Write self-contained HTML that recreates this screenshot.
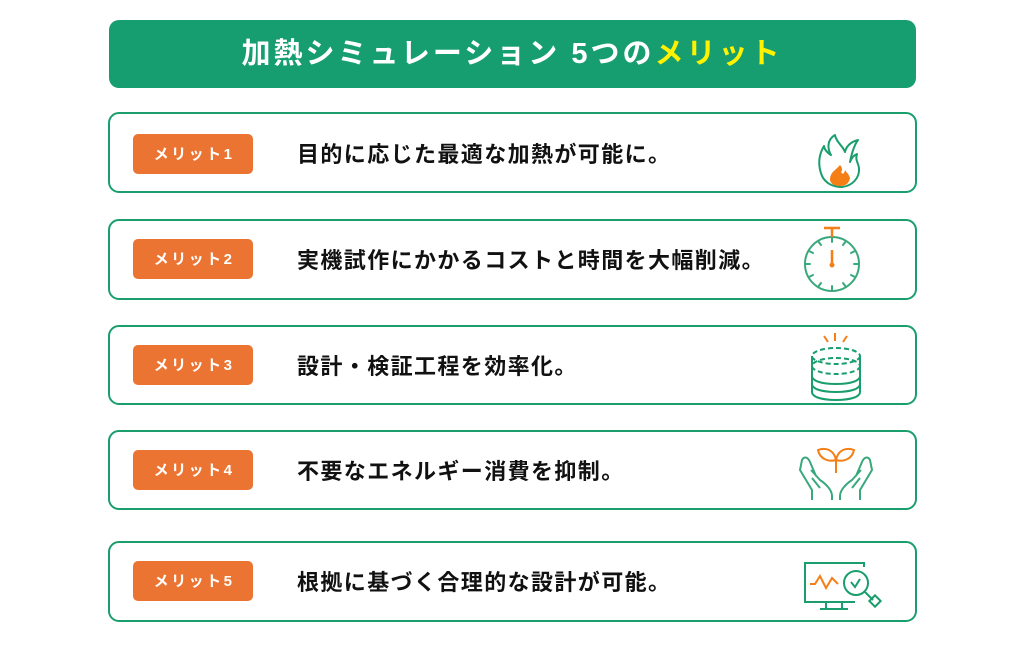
<!DOCTYPE html>
<html><head><meta charset="utf-8"><style>
body{margin:0;background:#fff;width:1027px;height:653px;overflow:hidden}
text{font-family:"Liberation Sans","Noto Sans CJK JP",sans-serif;font-weight:bold}
</style></head><body>
<svg width="1027" height="653" xmlns="http://www.w3.org/2000/svg">
<rect x="109" y="20" width="807" height="68" rx="10" fill="#169e70"/>
<text x="512" y="63" text-anchor="middle" font-size="29" letter-spacing="3" fill="#fff">加熱シミュレーション 5つの<tspan fill="#fff200">メリット</tspan></text>
<g fill="#fff" stroke="#1a9e6e" stroke-width="2">
<rect x="109" y="113" width="807" height="79" rx="10"/>
<rect x="109" y="220" width="807" height="79" rx="10"/>
<rect x="109" y="326" width="807" height="78" rx="10"/>
<rect x="109" y="431" width="807" height="78" rx="10"/>
<rect x="109" y="542" width="807" height="79" rx="10"/>
</g>
<g fill="#ec7432">
<rect x="133" y="134" width="120" height="40" rx="5"/>
<rect x="133" y="239" width="120" height="40" rx="5"/>
<rect x="133" y="345" width="120" height="40" rx="5"/>
<rect x="133" y="450" width="120" height="40" rx="5"/>
<rect x="133" y="561" width="120" height="40" rx="5"/>
</g>
<g fill="#fff" font-size="15" text-anchor="middle" letter-spacing="2.5">
<text x="194" y="159">メリット1</text>
<text x="194" y="264">メリット2</text>
<text x="194" y="370">メリット3</text>
<text x="194" y="475">メリット4</text>
<text x="194" y="586">メリット5</text>
</g>
<g fill="#111" font-size="22" letter-spacing="1.4">
<text x="297" y="162">目的に応じた最適な加熱が可能に。</text>
<text x="297" y="268">実機試作にかかるコストと時間を大幅削減。</text>
<text x="297" y="374">設計・検証工程を効率化。</text>
<text x="297" y="479">不要なエネルギー消費を抑制。</text>
<text x="297" y="590">根拠に基づく合理的な設計が可能。</text>
</g>
<!-- fire -->
<path d="M835,135 C826,140 828,150 831,155 C826,152 824,148 824,146 C818,156 818,166 822,176 C826,184 834,187 842,187 C852,186 860,178 859,168 C858,162 855,160 857,154 C852,156 851,160 850,162 C852,152 855,144 858,140 C850,142 846,147 845,152 C843,146 836,142 835,135 Z" fill="none" stroke="#1a9e6e" stroke-width="2" stroke-linejoin="round"/>
<path d="M840,165 C836,170 830,172 830,180 C831,185 836,186 840,186 C845,186 849,184 850,178 C849,174 846,172 845,170 C844,175 842,174 841,172 C843,170 842,167 840,165Z" fill="#f57f17"/>
<!-- stopwatch -->
<g stroke="#3aa87d" stroke-width="2" fill="none">
<circle cx="832" cy="264" r="27"/>
<g stroke-linecap="round">
<line x1="832" y1="237" x2="832" y2="242"/><line x1="832" y1="286" x2="832" y2="291"/>
<line x1="805" y1="264" x2="810" y2="264"/><line x1="854" y1="264" x2="859" y2="264"/>
<line x1="818" y1="241" x2="821" y2="245"/><line x1="846" y1="241" x2="843" y2="245"/>
<line x1="818" y1="287" x2="821" y2="283"/><line x1="846" y1="287" x2="843" y2="283"/>
<line x1="809" y1="251" x2="813" y2="253"/><line x1="855" y1="251" x2="851" y2="253"/>
<line x1="809" y1="277" x2="813" y2="275"/><line x1="855" y1="277" x2="851" y2="275"/>
</g></g>
<g stroke="#f57f17" stroke-width="2.5"><line x1="824" y1="228" x2="840" y2="228"/><line x1="832" y1="228" x2="832" y2="237"/><line x1="832" y1="250" x2="832" y2="264"/></g>
<circle cx="832" cy="265" r="2.5" fill="#f57f17"/>
<!-- coins -->
<g stroke="#1a9e6e" stroke-width="2" fill="none">
<ellipse cx="836" cy="356" rx="24" ry="8" stroke-dasharray="5 3"/>
<ellipse cx="836" cy="366" rx="24" ry="8" stroke-dasharray="5 3"/>
<path d="M812,356 V392 C812,397 822,400 836,400 C850,400 860,397 860,392 V356"/>
<path d="M812,376 C812,381 822,384 836,384 C850,384 860,381 860,376"/>
<path d="M812,384 C812,389 822,392 836,392 C850,392 860,389 860,384"/>
</g>
<g stroke="#f57f17" stroke-width="2"><line x1="835" y1="333" x2="835" y2="341"/><line x1="824" y1="336" x2="828" y2="342"/><line x1="847" y1="336" x2="843" y2="342"/></g>
<!-- hands -->
<g stroke="#3aa87d" stroke-width="2" fill="none" stroke-linejoin="round">
<path d="M812,500 V490 L800,470 L802,460 C804,456 808,457 810,462 L816,476 M811,470 L820,480 C826,484 832,490 832,496 V500 M812,478 L820,488"/>
<path d="M860,500 V490 L872,470 L870,460 C868,456 864,457 862,462 L856,476 M861,470 L852,480 C846,484 840,490 840,496 V500 M860,478 L852,488"/>
</g>
<g stroke="#f57f17" stroke-width="2" fill="none"><path d="M836,473 V460 C830,462 820,460 818,450 C826,447 834,450 836,460 C838,450 846,447 854,450 C852,460 842,462 836,460"/></g>
<!-- monitor -->
<g stroke="#1a9e6e" stroke-width="2" fill="none">
<path d="M864,567 V563 H805 V602 H855"/>
<line x1="826" y1="602" x2="826" y2="609"/><line x1="842" y1="602" x2="842" y2="609"/><line x1="820" y1="609" x2="848" y2="609"/>
<circle cx="856" cy="583" r="12"/>
<path d="M851,582 L855,587 L860,579"/>
<path d="M865,592 L873,600"/>
<rect x="871" y="597" width="8" height="8" transform="rotate(45 875 601)"/>
</g>
<path d="M810,584 H815 L820,576 L826,588 L832,578 L838,584" stroke="#f57f17" stroke-width="2" fill="none"/>
</svg>
</body></html>
